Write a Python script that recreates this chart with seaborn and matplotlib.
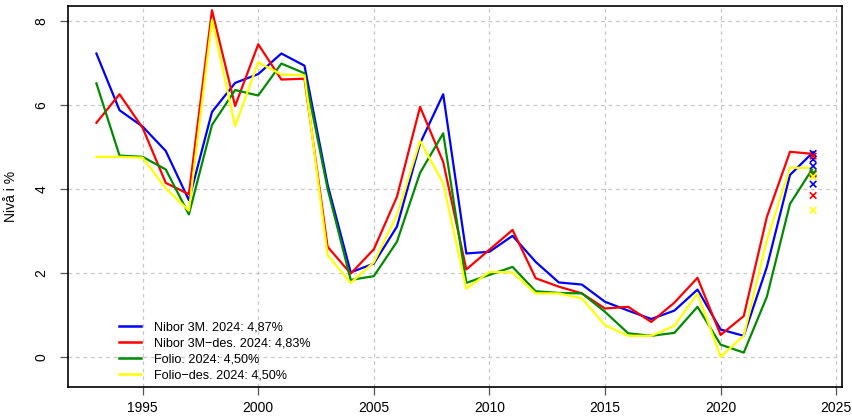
import pandas as pd
import matplotlib
matplotlib.use("Agg")
import matplotlib.pyplot as plt
import seaborn as sns

years = list(range(1993, 2025))

nibor = [7.22, 5.87, 5.48, 4.90, 3.73, 5.83, 6.52, 6.73, 7.22, 6.93,
         4.10, 2.01, 2.22, 3.10, 5.08, 6.25, 2.46, 2.50, 2.88, 2.26,
         1.77, 1.72, 1.31, 1.10, 0.90, 1.10, 1.60, 0.65, 0.50, 2.14,
         4.33, 4.87]
nibor_des = [5.57, 6.25, 5.45, 4.14, 3.87, 8.25, 5.97, 7.44, 6.60, 6.62,
             2.62, 1.98, 2.56, 3.81, 5.95, 4.64, 2.08, 2.55, 3.02, 1.87,
             1.67, 1.51, 1.15, 1.19, 0.83, 1.29, 1.88, 0.52, 0.97, 3.33,
             4.88, 4.83]
folio = [6.51, 4.79, 4.76, 4.46, 3.39, 5.52, 6.35, 6.22, 6.98, 6.75,
         4.00, 1.83, 1.92, 2.74, 4.38, 5.32, 1.76, 1.95, 2.14, 1.56,
         1.52, 1.51, 1.07, 0.56, 0.50, 0.57, 1.19, 0.29, 0.10, 1.43,
         3.64, 4.50]
folio_des = [4.76, 4.76, 4.74, 4.01, 3.48, 8.02, 5.49, 7.01, 6.72, 6.70,
             2.42, 1.76, 2.25, 3.37, 5.14, 4.13, 1.62, 2.02, 2.01, 1.51,
             1.51, 1.39, 0.75, 0.50, 0.50, 0.74, 1.51, 0.00, 0.50, 2.78,
             4.50, 4.50]

labels = ["Nibor 3M. 2024: 4,87%", "Nibor 3M\u2212des. 2024: 4,83%",
          "Folio. 2024: 4,50%", "Folio\u2212des. 2024: 4,50%"]
colors = ["#0000FF", "#FF0000", "#008B00", "#FFFF00"]

# extra 2024 points (crosses)
pts_series = [0, 0, 0, 0, 1, 1, 1, 2, 3, 3]
pts_values = [4.84, 4.70, 4.54, 4.11, 4.78, 4.35, 3.84, 4.38, 4.29, 3.49]

rows = []
for lab, vals in zip(labels, [nibor, nibor_des, folio, folio_des]):
    for y, v in zip(years, vals):
        rows.append({"year": y, "value": v, "series": lab})
df = pd.DataFrame(rows)

pts = pd.DataFrame({"year": [2024] * len(pts_values), "value": pts_values,
                    "series": [labels[i] for i in pts_series]})

plt.rcParams["font.family"] = ["Liberation Sans", "DejaVu Sans"]

fig = plt.figure(figsize=(8.52, 4.18), dpi=100)
ax = fig.add_axes([0.0795, 0.074, 0.9085, 0.9116])

sns.lineplot(data=df, x="year", y="value", hue="series", hue_order=labels,
             palette=colors, linewidth=1.6, ax=ax, zorder=3)
sns.scatterplot(data=pts, x="year", y="value", hue="series", hue_order=labels,
                palette=colors, marker="x", s=22, linewidth=1.2, ax=ax,
                legend=False, zorder=4)

ax.set_xlim(1991.76, 2025.24)
ax.set_ylim(-0.72, 8.35)
ax.set_xticks([1995, 2000, 2005, 2010, 2015, 2020, 2025])
ax.set_yticks([0, 2, 4, 6, 8])
ax.grid(True, color="#c8c8c8", linestyle=(0, (3, 3)), linewidth=0.9, zorder=0)
ax.set_axisbelow(True)
for s in ax.spines.values():
    s.set_linewidth(1.2)
    s.set_color("black")
ax.tick_params(axis="both", direction="out", length=6, width=0.9,
               color="#555555", labelsize=10)
ax.tick_params(axis="x", pad=4)
ax.tick_params(axis="y", pad=8)
for t in ax.get_yticklabels():
    t.set_rotation(90)
    t.set_va("center")
ax.set_xlabel("")
ax.set_ylabel("Nivå i %", fontsize=10, labelpad=12)

handles, _ = ax.get_legend_handles_labels()
leg = ax.legend(handles[:4], labels, loc="upper left",
                bbox_to_anchor=(0.06, 0.185), frameon=False, fontsize=9.1,
                handlelength=1.75, handletextpad=1.0, labelspacing=0.3,
                borderaxespad=0)
for h in leg.get_lines():
    h.set_linewidth(1.8)

fig.savefig("out.png", dpi=100)
plt.close()
